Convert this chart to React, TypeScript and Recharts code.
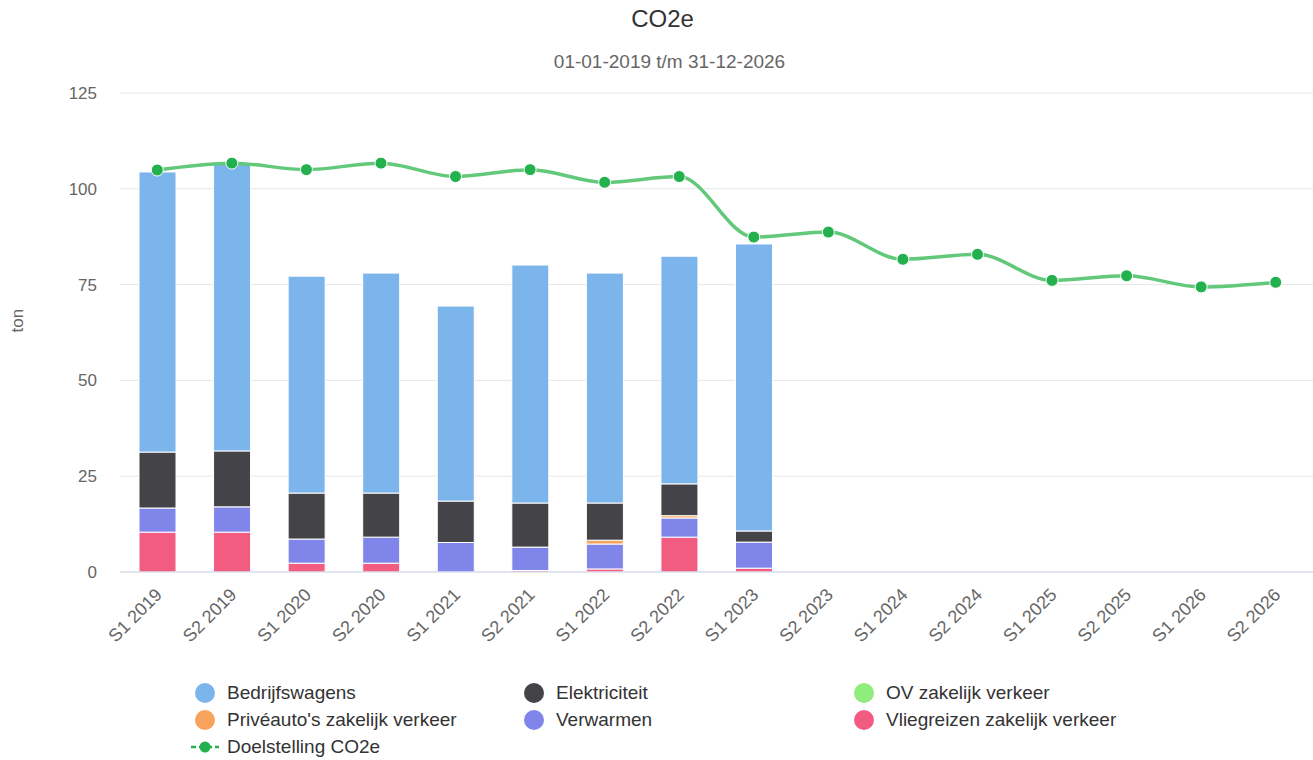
import React from 'react';
import { ComposedChart, Bar, Line, XAxis, YAxis, CartesianGrid } from 'recharts';

const categories = ['S1 2019', 'S2 2019', 'S1 2020', 'S2 2020', 'S1 2021', 'S2 2021', 'S1 2022', 'S2 2022', 'S1 2023', 'S2 2023', 'S1 2024', 'S2 2024', 'S1 2025', 'S2 2025', 'S1 2026', 'S2 2026'];
const bedrijfswagens = [73.1, 75.1, 56.6, 57.4, 50.9, 62.1, 60.0, 59.4, 74.9, null, null, null, null, null, null, null];
const elektriciteit = [14.6, 14.6, 12.0, 11.5, 10.8, 11.5, 9.7, 8.3, 2.9, null, null, null, null, null, null, null];
const ovZakelijk = [null, null, null, null, null, null, null, null, null, null, null, null, null, null, null, null];
const priveauto = [null, null, null, null, null, null, 1.0, 0.6, null, null, null, null, null, null, null, null];
const verwarmen = [6.3, 6.6, 6.3, 6.8, 7.7, 6.1, 6.5, 5.0, 6.8, null, null, null, null, null, null, null];
const vliegreizen = [10.4, 10.4, 2.3, 2.3, null, 0.4, 0.8, 9.1, 1.0, null, null, null, null, null, null, null];
const doelstelling = [104.9, 106.7, 105.0, 106.7, 103.2, 105.0, 101.7, 103.2, 87.4, 88.7, 81.6, 82.9, 76.1, 77.3, 74.4, 75.6];
const yTicks = [0, 25, 50, 75, 100, 125];

const COLORS = {
  bedrijfswagens: '#7cb5ec',
  elektriciteit: '#434348',
  ov: '#90ed7d',
  prive: '#f7a35c',
  verwarmen: '#8085e9',
  vlieg: '#f15c80',
  doel: '#22b14c',
  doelLine: '#62c87a',
};

const data = categories.map((c, i) => ({
  name: c,
  bedrijfswagens: bedrijfswagens[i],
  elektriciteit: elektriciteit[i],
  ov: ovZakelijk[i],
  prive: priveauto[i],
  verwarmen: verwarmen[i],
  vlieg: vliegreizen[i],
  doel: doelstelling[i],
}));

const FONT = '"Liberation Sans", Arial, Helvetica, sans-serif';

const XTick = (props: any) => {
  const { x, y, payload } = props;
  return (
    <g transform={`translate(${x + 3},${y + 13})`}>
      <text transform="rotate(-45)" textAnchor="end" fill="#666" fontSize={18} fontFamily={FONT} dy={4}>
        {payload.value}
      </text>
    </g>
  );
};

const YTick = (props: any) => {
  const { y, payload } = props;
  return (
    <text x={97} y={y} dy={6} textAnchor="end" fill="#666" fontSize={17} fontFamily={FONT}>
      {payload.value}
    </text>
  );
};

const legendItems = [
  { label: 'Bedrijfswagens', color: COLORS.bedrijfswagens, col: 0, row: 0 },
  { label: 'Elektriciteit', color: COLORS.elektriciteit, col: 1, row: 0 },
  { label: 'OV zakelijk verkeer', color: COLORS.ov, col: 2, row: 0 },
  { label: "Privéauto's zakelijk verkeer", color: COLORS.prive, col: 0, row: 1 },
  { label: 'Verwarmen', color: COLORS.verwarmen, col: 1, row: 1 },
  { label: 'Vliegreizen zakelijk verkeer', color: COLORS.vlieg, col: 2, row: 1 },
];
const colX = [195, 524, 854];
const rowY = [693, 720, 747];

export default function App() {
  return (
    <div style={{ position: 'absolute', left: 0, top: 0, width: 1313, height: 760, background: '#fff', fontFamily: FONT }}>
      <div style={{ position: 'absolute', left: 6, top: 5, width: 1313, textAlign: 'center', fontSize: 24, color: '#333' }}>CO2e</div>
      <div style={{ position: 'absolute', left: 13, top: 51, width: 1313, textAlign: 'center', fontSize: 19, color: '#666' }}>01-01-2019 t/m 31-12-2026</div>
      <div style={{ position: 'absolute', left: 0, top: 0 }}>
        <ComposedChart width={1313} height={760} data={data} margin={{ top: 93, right: 0, left: 0, bottom: 0 }}>
          <CartesianGrid horizontal vertical={false} stroke="#e6e6e6" />
          <XAxis dataKey="name" interval={0} tick={<XTick />} tickLine={false} axisLine={{ stroke: '#ccd6eb' }} height={188} />
          <YAxis
            domain={[0, 125]}
            ticks={yTicks}
            width={120}
            tick={<YTick />}
            axisLine={false}
            tickLine={false}
            label={{ value: 'ton', angle: -90, position: 'insideLeft', offset: 17, fill: '#666', fontSize: 17, fontFamily: FONT }}
          />
          <Bar dataKey="vlieg" stackId="a" fill={COLORS.vlieg} stroke="#fff" strokeWidth={1} barSize={37} isAnimationActive={false} />
          <Bar dataKey="verwarmen" stackId="a" fill={COLORS.verwarmen} stroke="#fff" strokeWidth={1} barSize={37} isAnimationActive={false} />
          <Bar dataKey="prive" stackId="a" fill={COLORS.prive} stroke="#fff" strokeWidth={1} barSize={37} isAnimationActive={false} />
          <Bar dataKey="ov" stackId="a" fill={COLORS.ov} stroke="#fff" strokeWidth={1} barSize={37} isAnimationActive={false} />
          <Bar dataKey="elektriciteit" stackId="a" fill={COLORS.elektriciteit} stroke="#fff" strokeWidth={1} barSize={37} isAnimationActive={false} />
          <Bar dataKey="bedrijfswagens" stackId="a" fill={COLORS.bedrijfswagens} stroke="#fff" strokeWidth={1} barSize={37} isAnimationActive={false} />
          <Line
            dataKey="doel"
            type="monotone"
            stroke={COLORS.doelLine}
            strokeWidth={3.5}
            dot={{ r: 6, fill: COLORS.doel, stroke: '#fff', strokeWidth: 1 }}
            activeDot={false}
            isAnimationActive={false}
          />
        </ComposedChart>
      </div>
      {legendItems.map((it) => (
        <div key={it.label} style={{ position: 'absolute', left: colX[it.col], top: rowY[it.row] - 11, height: 22, display: 'flex', alignItems: 'center', fontSize: 19, color: '#333', whiteSpace: 'nowrap' }}>
          <span style={{ display: 'inline-block', width: 20, height: 20, borderRadius: '50%', background: it.color, marginRight: 12 }} />
          {it.label}
        </div>
      ))}
      <div style={{ position: 'absolute', left: 189, top: rowY[2] - 11, height: 22, display: 'flex', alignItems: 'center', fontSize: 19, color: '#333', whiteSpace: 'nowrap' }}>
        <svg width={34} height={20} style={{ marginRight: 4 }}>
          <line x1={2} y1={10} x2={30} y2={10} stroke={COLORS.doel} strokeWidth={2.5} strokeDasharray="5 3" />
          <circle cx={16} cy={10} r={5.5} fill={COLORS.doel} />
        </svg>
        Doelstelling CO2e
      </div>
    </div>
  );
}
